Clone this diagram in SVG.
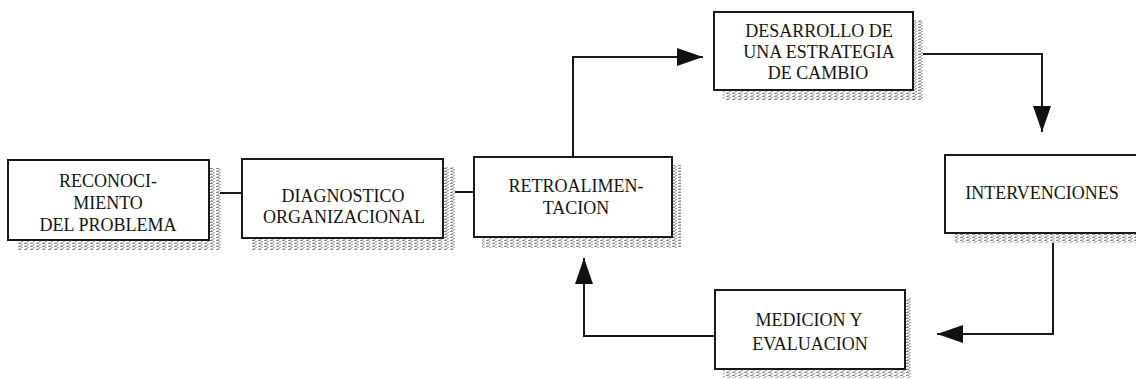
<svg xmlns="http://www.w3.org/2000/svg" width="1136" height="379" viewBox="0 0 1136 379">
<style>
.box{fill:#fff;stroke:#1a1a1a;stroke-width:2}
.sh{fill:url(#hatch)}
.t{font-family:"Liberation Serif","Times New Roman",serif;font-size:18px;fill:#151515;text-anchor:middle}
.c{fill:none;stroke:#1a1a1a;stroke-width:2}
</style>
<defs>
<pattern id="hatch" width="6" height="3" patternUnits="userSpaceOnUse">
<rect width="6" height="3" fill="#fff"/>
<rect x="0" y="0" width="3" height="1" fill="#8f8f8f"/>
<rect x="3" y="1" width="2" height="1" fill="#b0b0b0"/>
<rect x="1" y="2" width="3" height="1" fill="#c4c4c4"/>
</pattern>
<marker id="ah" markerUnits="userSpaceOnUse" markerWidth="26" markerHeight="18" refX="26" refY="9" orient="auto">
<path d="M0,0 L26,9 L0,18 z" fill="#111"/>
</marker>
</defs>
<g id="n1">
<rect class="sh" x="18" y="168" width="203" height="82"/>
<rect class="box" x="8" y="160" width="201" height="80"/>
<text class="t" x="108" y="187">RECONOCI-</text>
<text class="t" x="108" y="209">MIENTO</text>
<text class="t" x="108" y="231">DEL PROBLEMA</text>
</g>
<g id="n2">
<rect class="sh" x="252" y="167" width="203" height="83"/>
<rect class="box" x="242" y="159" width="201" height="79"/>
<text class="t" x="343" y="202">DIAGNOSTICO</text>
<text class="t" x="344" y="223">ORGANIZACIONAL</text>
</g>
<g id="n3">
<rect class="sh" x="482" y="165" width="199" height="83"/>
<rect class="box" x="474" y="157" width="198" height="80"/>
<text class="t" x="576" y="192">RETROALIMEN-</text>
<text class="t" x="576" y="214">TACION</text>
</g>
<g id="n4">
<rect class="sh" x="723" y="20" width="200" height="80"/>
<rect class="box" x="714" y="12" width="199" height="78"/>
<text class="t" x="819" y="37">DESARROLLO DE</text>
<text class="t" x="819" y="58">UNA ESTRATEGIA</text>
<text class="t" x="818" y="79">DE CAMBIO</text>
</g>
<g id="n5">
<rect class="sh" x="955" y="163" width="190" height="80"/>
<rect class="box" x="945" y="155" width="193" height="78"/>
<text class="t" x="1042" y="199">INTERVENCIONES</text>
</g>
<g id="n6">
<rect class="sh" x="723" y="298" width="189" height="80"/>
<rect class="box" x="715" y="290" width="190" height="79"/>
<text class="t" x="809" y="326">MEDICION Y</text>
<text class="t" x="810" y="350">EVALUACION</text>
</g>
<g id="connectors">
<line class="c" x1="220" y1="193" x2="242" y2="193"/>
<line class="c" x1="455" y1="192" x2="474" y2="192"/>
<polyline class="c" points="573,157 573,57 703,57" marker-end="url(#ah)"/>
<polyline class="c" points="923,54 1042,54 1042,132" marker-end="url(#ah)"/>
<polyline class="c" points="1053,243 1053,334 937,334" marker-end="url(#ah)"/>
<polyline class="c" points="715,336 584,336 584,258" marker-end="url(#ah)"/>
</g>
</svg>
